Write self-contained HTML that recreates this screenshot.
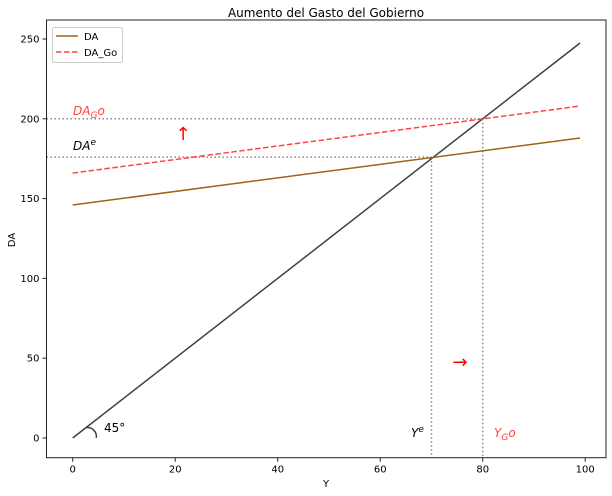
<!DOCTYPE html>
<html><head><meta charset="utf-8"><style>body{margin:0;background:#fff}svg{display:block;font-family:"DejaVu Sans","Liberation Sans",sans-serif}</style></head>
<body>
<svg id="c" width="612" height="496"></svg>
<script>
const yValues=[0,99];
const diagValues=[0,247.5];
const daValues=[146,188];
const daGoValues=[166,208];
const xTicks=[0,20,40,60,80,100];
const yTicks=[0,50,100,150,200,250];
const Ye=70, DAe=176, YGo=80, DAGo=200;
const L=46.5,R=606,T=20,B=457.7;
const sx=v=>72.7+v*5.125;
const sy=v=>438-v*1.596;
const svg=document.getElementById('c');
const NS='http://www.w3.org/2000/svg';
function mk(t,a,txt){const e=document.createElementNS(NS,t);for(const k in a)e.setAttribute(k,a[k]);if(txt!==undefined)e.textContent=txt;svg.appendChild(e);return e;}
let e;
e=mk('text',{x:326,y:17,'text-anchor':'middle','font-size':12},'Aumento del Gasto del Gobierno');


e=mk('line',{x1:L,x2:sx(YGo),y1:sy(DAGo),y2:sy(DAGo),stroke:'#888','stroke-dasharray':'1.5,2.5','stroke-width':1.5});


e=mk('line',{x1:L,x2:sx(Ye),y1:sy(DAe),y2:sy(DAe),stroke:'#888','stroke-dasharray':'1.5,2.5','stroke-width':1.5});


e=mk('line',{x1:sx(Ye),x2:sx(Ye),y1:sy(DAe),y2:B,stroke:'#888','stroke-dasharray':'1.5,2.5','stroke-width':1.5});


e=mk('line',{x1:sx(YGo),x2:sx(YGo),y1:sy(DAGo),y2:B,stroke:'#888','stroke-dasharray':'1.5,2.5','stroke-width':1.5});


e=mk('line',{x1:sx(yValues[0]),y1:sy(diagValues[0]),x2:sx(yValues[1]),y2:sy(diagValues[1]),stroke:'#404040','stroke-width':1.5});


e=mk('line',{x1:sx(yValues[0]),y1:sy(daValues[0]),x2:sx(yValues[1]),y2:sy(daValues[1]),stroke:'#a0631a','stroke-width':1.5});


e=mk('line',{x1:sx(yValues[0]),y1:sy(daGoValues[0]),x2:sx(yValues[1]),y2:sy(daGoValues[1]),stroke:'#ff4444','stroke-width':1.5,'stroke-dasharray':'5.5,2.5'});


e=mk('path',{d:`M${sx(2.6)},${sy(6.5)} A9,9 0 0 1 ${sx(4.6)},${sy(0)}`,fill:'none',stroke:'#404040','stroke-width':1.5});


e=mk('text',{x:104,y:432,'font-size':12},'45°');


e=mk('text',{x:73,y:115,'font-size':12,fill:'#ff4444','font-style':'italic'});
e.innerHTML='DA<tspan font-size="9" dy="3">G</tspan><tspan dy="-3">o</tspan>';


e=mk('text',{x:73,y:150,'font-size':12,'font-style':'italic'});
e.innerHTML='DA<tspan font-size="9" dy="-5">e</tspan>';


e=mk('text',{x:411,y:437,'font-size':12,'font-style':'italic'});
e.innerHTML='Y<tspan font-size="9" dy="-5">e</tspan>';


e=mk('text',{x:494,y:437,'font-size':12,fill:'#ff4444','font-style':'italic'});
e.innerHTML='Y<tspan font-size="9" dy="3">G</tspan><tspan dy="-3">o</tspan>';


e=mk('text',{x:183,y:140,'font-size':18,fill:'red','text-anchor':'middle'},'↑');


e=mk('text',{x:460,y:368,'font-size':18,fill:'red','text-anchor':'middle'},'→');


e=mk('rect',{x:L,y:T,width:R-L,height:B-T,fill:'none',stroke:'#222','stroke-width':1});


xTicks.forEach(t=>{
 e=mk('line',{x1:sx(t),x2:sx(t),y1:B,y2:B+4,stroke:'#222'});
 
 
 e=mk('text',{x:sx(t),y:B+15,'text-anchor':'middle','font-size':10},String(t));
 
 
});
yTicks.forEach(t=>{
 e=mk('line',{x1:L-4,x2:L,y1:sy(t),y2:sy(t),stroke:'#222'});
 
 
 e=mk('text',{x:L-7,y:sy(t)+3.5,'text-anchor':'end','font-size':10},String(t));
 
 
});
e=mk('text',{x:326,y:487,'text-anchor':'middle','font-size':10},'Y');


e=mk('text',{x:15,y:240,'text-anchor':'middle','font-size':10,transform:'rotate(-90 15 240)'},'DA');


e=mk('rect',{x:52.5,y:27.5,width:70,height:35,rx:2,fill:'#fff',stroke:'#ccc'});


e=mk('line',{x1:56,x2:78,y1:36,y2:36,stroke:'#a0631a','stroke-width':1.5});


e=mk('text',{x:84,y:40,'font-size':10},'DA');


e=mk('line',{x1:56,x2:78,y1:52,y2:52,stroke:'#ff4444','stroke-width':1.5,'stroke-dasharray':'5.5,2.5'});


e=mk('text',{x:84,y:56,'font-size':10},'DA_Go');


</script>
</body></html>
